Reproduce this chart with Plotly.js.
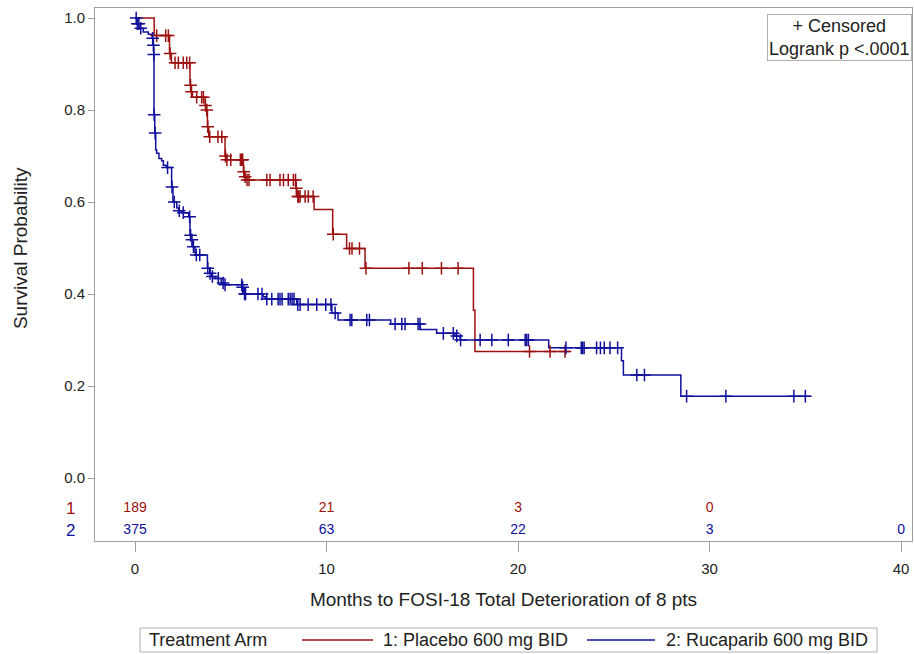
<!DOCTYPE html>
<html>
<head>
<meta charset="utf-8">
<script src="https://cdn.plot.ly/plotly-3.0.1.min.js"></script>
<style>html,body{margin:0;padding:0;background:#fff;}#chart{width:914px;height:654px;}</style>
</head>
<body>
<div id="chart"></div>
<script>
// ---- Kaplan-Meier step data (months, survival probability) ----
const placeboTimes = [1.0, 1.8, 1.9, 2.87, 2.92, 3.0, 3.66, 3.72, 3.78, 3.85, 4.7, 4.78, 5.66, 5.72, 5.8, 8.4, 8.45, 9.35, 10.32, 11.05, 12.01, 17.67, 17.75];
const placeboSurv  = [0.962, 0.923, 0.903, 0.854, 0.84, 0.828, 0.81, 0.80, 0.764, 0.742, 0.70, 0.692, 0.666, 0.655, 0.648, 0.63, 0.612, 0.584, 0.53, 0.499, 0.456, 0.365, 0.275];
const placeboEnd = 22.7;
const placeboCensored = [1.13, 1.6, 1.74, 1.83, 2.09, 2.26, 2.52, 2.7, 2.85, 2.9, 2.95, 3.22, 3.48, 3.57, 3.68, 3.75, 3.8, 3.9, 4.33, 4.53, 4.72, 4.8, 5.0, 5.5, 5.57, 5.62, 5.68, 5.75, 5.85, 5.95, 6.88, 7.05, 7.57, 7.75, 8.0, 8.27, 8.38, 8.42, 8.5, 8.55, 8.62, 8.88, 9.05, 9.3, 10.35, 11.2, 11.33, 11.72, 12.06, 14.3, 15.0, 16.0, 16.87, 20.6, 21.67, 22.45];

const rucaTimes = [0.09, 0.26, 0.43, 0.69, 0.9, 0.95, 0.975, 0.99, 1.03, 1.08, 1.13, 1.25, 1.39, 1.48, 1.62, 1.91, 1.98, 2.18, 2.28, 2.45, 2.8, 2.87, 2.95, 3.0, 3.03, 3.13, 3.18, 3.78, 3.9, 4.0, 4.2, 4.5, 4.65, 5.6, 5.68, 6.7, 6.8, 8.44, 10.28, 10.6, 13.35, 14.9, 15.75, 16.7, 16.97, 21.6, 25.4, 25.5, 28.5];
const rucaSurv  = [0.988, 0.978, 0.97, 0.965, 0.956, 0.941, 0.921, 0.79, 0.75, 0.713, 0.706, 0.695, 0.69, 0.68, 0.675, 0.633, 0.60, 0.587, 0.581, 0.577, 0.568, 0.528, 0.518, 0.51, 0.503, 0.49, 0.485, 0.456, 0.445, 0.438, 0.434, 0.424, 0.42, 0.415, 0.40, 0.394, 0.389, 0.377, 0.359, 0.3435, 0.335, 0.323, 0.3145, 0.309, 0.30, 0.283, 0.255, 0.224, 0.178];
const rucaEnd = 35.25;
const rucaCensored = [0.06, 0.12, 0.2, 0.3, 0.92, 0.96, 0.98, 1.0, 1.05, 1.7, 1.93, 2.05, 2.31, 2.52, 2.85, 2.9, 2.97, 3.05, 3.2, 3.38, 3.8, 3.92, 4.04, 4.35, 4.6, 4.7, 5.57, 5.62, 5.72, 5.77, 6.42, 6.63, 6.88, 7.14, 7.47, 7.57, 7.68, 8.0, 8.1, 8.2, 8.3, 8.5, 8.62, 9.04, 9.49, 9.96, 10.23, 10.45, 11.23, 11.32, 12.1, 12.24, 13.58, 13.93, 14.1, 14.78, 14.88, 16.1, 16.62, 16.8, 17.0, 18.02, 18.63, 19.49, 20.37, 20.45, 20.54, 22.5, 23.3, 23.37, 23.45, 24.1, 24.3, 24.5, 24.8, 25.2, 26.2, 26.6, 28.8, 30.85, 34.4, 35.0];

// ---- Number at risk ----
const riskTimes = [0, 10, 20, 30, 40];
const riskPlacebo = [189, 21, 3, 0, null];
const riskRuca = [375, 63, 22, 3, 0];

// ---- Labels ----
const seriesNames = ['1: Placebo 600 mg BID', '2: Rucaparib 600 mg BID'];
const legendTitle = 'Treatment Arm';
const rowLabels = ['1', '2'];
const xTicks = [0, 10, 20, 30, 40];
const yTicks = [0, 0.2, 0.4, 0.6, 0.8, 1.0];
const xTitle = 'Months to FOSI-18 Total Deterioration of 8 pts';
const yTitle = 'Survival Probability';
const insetText = '+ Censored<br>Logrank p <.0001';

const RED = '#9c1010', BLUE = '#10109c';
const FONT = 'Liberation Sans, Arial, sans-serif';

// plot-area geometry (pixels) used to place legend pieces
const M = {l: 95, r: 2, t: 8, b: 113};
const PW = 914 - M.l - M.r, PH = 654 - M.t - M.b;
const px = v => (v - M.l) / PW;            // page x -> paper x
const py = v => (654 - M.b - v) / PH;      // page y -> paper y

function stepXY(times, surv, end) {
  const x = [0], y = [1];
  for (let i = 0; i < times.length; i++) { x.push(times[i]); y.push(surv[i]); }
  x.push(end); y.push(surv[surv.length - 1]);
  return {x, y};
}
function survAt(times, surv, t) {
  let s = 1;
  for (let i = 0; i < times.length; i++) if (times[i] <= t) s = surv[i];
  return s;
}

const pStep = stepXY(placeboTimes, placeboSurv, placeboEnd);
const rStep = stepXY(rucaTimes, rucaSurv, rucaEnd);
const rowY = [-0.067, -0.115];

const traces = [
  {x: pStep.x, y: pStep.y, mode: 'lines', line: {shape: 'hv', color: RED, width: 1.5}, name: seriesNames[0]},
  {x: rStep.x, y: rStep.y, mode: 'lines', line: {shape: 'hv', color: BLUE, width: 1.5}, name: seriesNames[1]},
  {x: placeboCensored, y: placeboCensored.map(t => survAt(placeboTimes, placeboSurv, t)), mode: 'markers',
   marker: {symbol: 'cross-thin', size: 9, line: {color: RED, width: 1.5}}, hoverinfo: 'skip'},
  {x: rucaCensored, y: rucaCensored.map(t => survAt(rucaTimes, rucaSurv, t)), mode: 'markers',
   marker: {symbol: 'cross-thin', size: 9, line: {color: BLUE, width: 1.5}}, hoverinfo: 'skip'},
  {x: riskTimes.filter((t, i) => riskPlacebo[i] !== null), y: riskTimes.filter((t, i) => riskPlacebo[i] !== null).map(() => rowY[0]),
   text: riskPlacebo.filter(v => v !== null).map(String), mode: 'text', textfont: {color: RED, size: 14, family: FONT}, hoverinfo: 'skip'},
  {x: riskTimes, y: riskTimes.map(() => rowY[1]), text: riskRuca.map(String), mode: 'text',
   textfont: {color: BLUE, size: 14, family: FONT}, hoverinfo: 'skip'}
];

const TXT = '#222';
const layout = {
  width: 914, height: 654,
  margin: {l: M.l, r: M.r, t: M.t, b: M.b, autoexpand: false},
  paper_bgcolor: '#fff', plot_bgcolor: '#fff',
  font: {family: FONT, size: 15, color: TXT},
  showlegend: false,
  xaxis: {
    range: [-2.09, 40.57], tickvals: xTicks, ticktext: xTicks.map(String),
    ticks: 'outside', ticklen: 10, tickcolor: '#a0a0a0', ticklabelstandoff: 4, showgrid: false, zeroline: false,
    showline: true, linecolor: '#a0a0a0', mirror: true, tickfont: {size: 15},
    title: {text: xTitle, font: {size: 19}, standoff: 16}
  },
  yaxis: {
    range: [-0.137, 1.022], tickvals: yTicks, ticktext: yTicks.map(v => v.toFixed(1)),
    ticks: 'outside', ticklen: 6, tickcolor: '#a0a0a0', showgrid: false, zeroline: false,
    showline: true, linecolor: '#a0a0a0', mirror: true, tickfont: {size: 15}
  },
  shapes: [
    {type: 'rect', xref: 'paper', yref: 'paper', x0: px(140), x1: px(877), y0: py(652), y1: py(628),
     line: {color: '#b0b0b0', width: 1}, fillcolor: 'rgba(0,0,0,0)'},
    {type: 'line', xref: 'paper', yref: 'paper', x0: px(302), x1: px(373), y0: py(640), y1: py(640),
     line: {color: RED, width: 1.5}},
    {type: 'line', xref: 'paper', yref: 'paper', x0: px(587), x1: px(655), y0: py(640), y1: py(640),
     line: {color: BLUE, width: 1.5}}
  ],
  annotations: [
    {xref: 'paper', yref: 'y', x: px(20), y: 0.5, xanchor: 'center', yanchor: 'middle', text: yTitle, textangle: -90, showarrow: false,
     font: {size: 19, color: TXT}},
    {xref: 'paper', yref: 'y', x: px(77), y: rowY[0], text: rowLabels[0], showarrow: false, xanchor: 'right',
     font: {color: RED, size: 17}},
    {xref: 'paper', yref: 'y', x: px(77), y: rowY[1], text: rowLabels[1], showarrow: false, xanchor: 'right',
     font: {color: BLUE, size: 17}},
    {xref: 'paper', yref: 'paper', x: 0.9995, y: py(14), xanchor: 'right', yanchor: 'top', showarrow: false,
     text: insetText, align: 'center', bordercolor: '#b0b0b0', borderwidth: 1, borderpad: 1,
     bgcolor: '#fff', font: {size: 18, color: TXT}},
    {xref: 'paper', yref: 'paper', x: px(147), y: py(640), xanchor: 'left', yanchor: 'middle', showarrow: false,
     text: legendTitle, font: {size: 18, color: TXT}},
    {xref: 'paper', yref: 'paper', x: px(381), y: py(640), xanchor: 'left', yanchor: 'middle', showarrow: false,
     text: seriesNames[0], font: {size: 18, color: TXT}},
    {xref: 'paper', yref: 'paper', x: px(664), y: py(640), xanchor: 'left', yanchor: 'middle', showarrow: false,
     text: seriesNames[1], font: {size: 18, color: TXT}}
  ]
};

Plotly.newPlot('chart', traces, layout, {displayModeBar: false, staticPlot: true});
</script>
</body>
</html>
